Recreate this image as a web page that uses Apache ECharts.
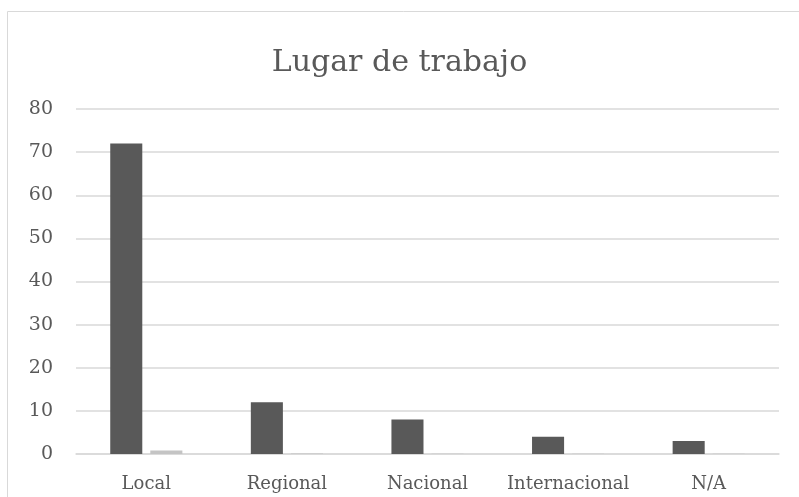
<!DOCTYPE html>
<html>
<head>
<meta charset="utf-8">
<script src="https://cdn.jsdelivr.net/npm/echarts@6/dist/echarts.min.js"></script>
<style>
  html, body { margin: 0; padding: 0; background: #fff; }
  #chart { width: 799px; height: 497px; }
</style>
</head>
<body>
<div id="chart"></div>
<script>
// data
const categories = ['Local', 'Regional', 'Nacional', 'Internacional', 'N/A'];
const counts = [72, 12, 8, 4, 3];
const shares = [0.8, 0.12, 0.08, 0.04, 0.03];
const yTicks = [0, 10, 20, 30, 40, 50, 60, 70, 80];

const chart = echarts.init(document.getElementById('chart'));

const font = '"DejaVu Serif", "Liberation Serif", serif';

const option = {
  animation: false,
  textStyle: { fontFamily: font },
  graphic: [{
    type: 'rect',
    shape: { x: 7.5, y: 11.5, width: 820, height: 520 },
    style: { fill: 'none', stroke: '#d9d9d9', lineWidth: 1 },
    silent: true
  }],
  title: {
    text: 'Lugar de trabajo',
    left: 'center',
    top: 43,
    textStyle: { fontFamily: font, fontSize: 30, fontWeight: 'normal', color: '#595959' }
  },
  grid: { left: 76, right: 20, top: 109, bottom: 43 },
  xAxis: {
    type: 'category',
    data: categories,
    axisTick: { show: false },
    axisLine: { lineStyle: { color: '#d9d9d9', width: 1.5 } },
    axisLabel: { color: '#595959', fontSize: 18, margin: 21, interval: 0, fontFamily: font }
  },
  yAxis: {
    type: 'value',
    min: yTicks[0],
    max: yTicks[yTicks.length - 1],
    interval: 10,
    axisLine: { show: false },
    axisTick: { show: false },
    splitLine: { lineStyle: { color: '#d9d9d9', width: 1.5 } },
    axisLabel: { color: '#595959', fontSize: 19, margin: 23, fontFamily: font }
  },
  series: [
    {
      type: 'bar',
      data: counts,
      barWidth: '22.8%',
      barGap: '25%',
      itemStyle: { color: '#595959' }
    },
    {
      type: 'bar',
      data: shares,
      barWidth: '22.8%',
      itemStyle: { color: '#c4c4c4' }
    }
  ]
};

chart.setOption(option);
</script>
</body>
</html>
